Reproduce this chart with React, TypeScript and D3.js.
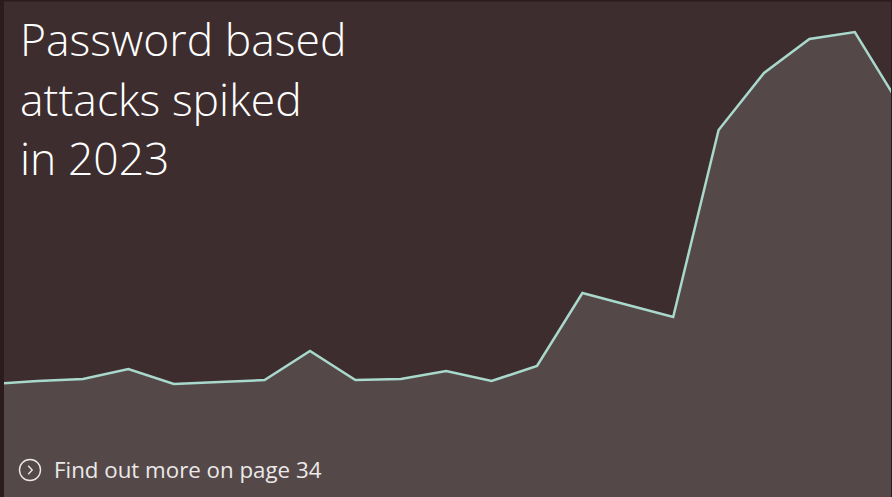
import React from 'react';
import * as d3 from 'd3';

// monthly index of password attack volume
const MONTHS = d3.range(21);
const VALUES = [1.13, 1.16, 1.18, 1.28, 1.13, 1.15, 1.17, 1.46, 1.17, 1.18, 1.26, 1.16, 1.31, 2.04, 1.92, 1.80, 3.67, 4.24, 4.58, 4.65, 3.91];
const TITLE_LINES = ['Password based', 'attacks spiked', 'in 2023'];
const LINK_TEXT = 'Find out more on page 34';

const W = 892;
const H = 497;

const App: React.FC = () => {
  const x = d3.scaleLinear().domain([0, MONTHS.length - 1]).range([-7.8, 900.2]);
  const y = d3.scaleLinear().domain([0, 4.97]).range([H, 0]);

  const pts = MONTHS.map((m, i) => ({ m, v: VALUES[i] }));
  const area = d3.area<{ m: number; v: number }>()
    .x(d => x(d.m))
    .y0(H)
    .y1(d => y(d.v));
  const line = d3.line<{ m: number; v: number }>()
    .x(d => x(d.m))
    .y(d => y(d.v));

  const font = "'Segoe UI', 'Open Sans', 'Noto Sans', sans-serif";

  return (
    <svg width={W} height={H} style={{ position: 'absolute', left: 0, top: 0 }}>
      <defs>
        <clipPath id="frame">
          <rect x={0} y={0} width={W} height={H} />
        </clipPath>
      </defs>
      <rect x={0} y={0} width={W} height={H} fill="#3d2d2e" />
      <g clipPath="url(#frame)">
        <path d={area(pts) ?? ''} fill="#544948" />
        <path d={line(pts) ?? ''} fill="none" stroke="#a9d8cc" strokeWidth={2.5} strokeLinejoin="miter" />
      </g>

      {/* frame */}
      <rect x={0} y={0} width={4} height={H} fill="#2b1b1c" />
      <rect x={0} y={0} width={W} height={1.5} fill="#2b1b1c" />
      <rect x={W - 1} y={0} width={1} height={H} fill="#2b1b1c" />

      {TITLE_LINES.map((t, i) => (
        <text key={t} x={20} y={56 + i * 59.5} fill="#ffffff" fontFamily={font} fontWeight={300} fontSize={44.5}>
          {t}
        </text>
      ))}

      <g transform="translate(30,470)">
        <circle r={10.5} fill="none" stroke="#ece8e8" strokeWidth={1.4} />
        <path d="M-1.8,-4.2 L2.2,0 L-1.8,4.2" fill="none" stroke="#ece8e8" strokeWidth={1.4} />
      </g>
      <text x={54} y={478} fill="#ece8e8" fontFamily={font} fontSize={22.3}>
        {LINK_TEXT}
      </text>
    </svg>
  );
};

export default App;
